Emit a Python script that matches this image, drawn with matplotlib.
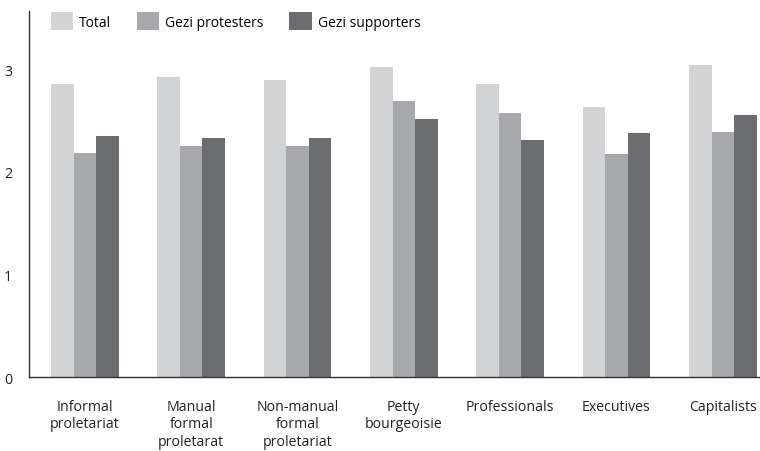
import numpy as np
import matplotlib.pyplot as plt

plt.rcParams['font.family'] = ['Open Sans', 'DejaVu Sans']

categories = ["Informal\nproletariat", "Manual\nformal\nproletarat", "Non-manual\nformal\nproletariat",
              "Petty\nbourgeoisie", "Professionals", "Executives", "Capitalists"]
total = [2.86, 2.93, 2.90, 3.02, 2.86, 2.63, 3.04]
protesters = [2.18, 2.25, 2.25, 2.69, 2.57, 2.17, 2.39]
supporters = [2.35, 2.33, 2.33, 2.52, 2.31, 2.38, 2.55]

series = [("Total", total, "#d2d3d5"),
          ("Gezi protesters", protesters, "#a7a8ab"),
          ("Gezi supporters", supporters, "#6b6c70")]

fig = plt.figure(figsize=(7.6, 4.52), dpi=100)
ax = fig.add_axes([0.038, 0.1637, 0.962, 0.81])

x = np.arange(len(categories))
width = 0.212
for i, (name, vals, color) in enumerate(series):
    ax.bar(x + (i - 1) * width, vals, width, color=color, label=name, linewidth=0)

ax.set_xlim(-0.527, 6.35)
ax.set_ylim(0, 3.57)
ax.set_yticks([0, 1, 2, 3])
ax.set_xticks(x)
ax.set_xticklabels(categories, va="top", linespacing=1.2)
ax.tick_params(axis="both", length=0, labelsize=10.2, colors="#222222")
ax.tick_params(axis="y", pad=12)
ax.tick_params(axis="x", pad=16)

for side in ["top", "right"]:
    ax.spines[side].set_visible(False)
for side in ["left", "bottom"]:
    ax.spines[side].set_color("#333333")
    ax.spines[side].set_linewidth(1.0)

ax.legend(loc="upper left", bbox_to_anchor=(0.022, 1.012), ncol=3, frameon=False,
          fontsize=10, handlelength=1.6, handleheight=1.6, handletextpad=0.45,
          columnspacing=1.85, borderaxespad=0)

fig.savefig("out.png", dpi=100)
plt.close()
